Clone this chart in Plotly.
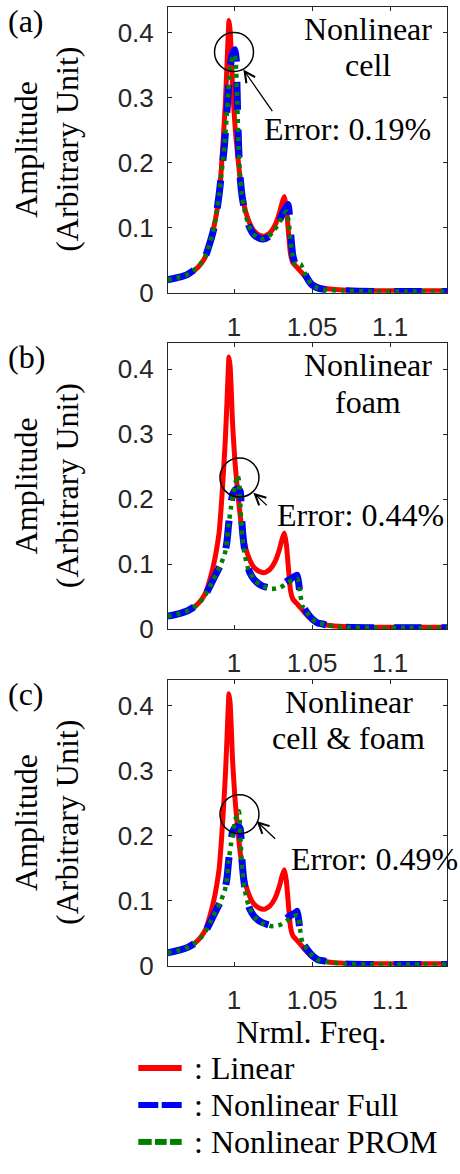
import plotly.graph_objects as go

# ---------------- data ----------------
# Linear response (same model in all three cases)
freq_lin = [0.9575, 0.965, 0.970, 0.975, 0.979, 0.982, 0.9846, 0.987, 0.989, 0.9905,
            0.992, 0.9932, 0.9944, 0.9955, 0.9962, 0.9968, 0.9975, 0.9982, 0.999, 1.0,
            1.0008, 1.0022, 1.0038, 1.006, 1.0092, 1.0125, 1.016, 1.0195, 1.023, 1.0263,
            1.029, 1.031, 1.0323, 1.0336, 1.0350, 1.0362, 1.0378, 1.040, 1.043, 1.0465,
            1.050, 1.055, 1.060, 1.070, 1.085, 1.10, 1.12, 1.1365]
amp_lin = [0.020, 0.024, 0.028, 0.035, 0.045, 0.057, 0.077, 0.100, 0.125, 0.150,
           0.195, 0.240, 0.290, 0.350, 0.392, 0.419, 0.405, 0.370, 0.320, 0.280,
           0.252, 0.215, 0.178, 0.140, 0.112, 0.096, 0.089, 0.087, 0.092, 0.104,
           0.122, 0.140, 0.148, 0.130, 0.090, 0.060, 0.046, 0.040, 0.032, 0.022,
           0.014, 0.008, 0.006, 0.004, 0.003, 0.003, 0.003, 0.003]

# (a) nonlinear cell
freq_a_full = [0.9575, 0.965, 0.970, 0.975, 0.979, 0.982, 0.9846, 0.9868, 0.9889, 0.9905,
               0.9921, 0.9938, 0.9953, 0.9964, 0.9974, 0.9990, 1.0006, 1.0014, 1.0020, 1.0025,
               1.0030, 1.0038, 1.0050, 1.0065, 1.0092, 1.0125, 1.0160, 1.0188, 1.0220, 1.0250,
               1.0290, 1.0320, 1.0346, 1.0356, 1.0366, 1.0378, 1.0395, 1.0415, 1.0428, 1.0445,
               1.0470, 1.0500, 1.0540, 1.0600, 1.0700, 1.0900, 1.1100, 1.1365]
amp_a_full = [0.020, 0.024, 0.028, 0.036, 0.046, 0.058, 0.077, 0.096, 0.124, 0.152,
              0.186, 0.225, 0.272, 0.313, 0.343, 0.368, 0.374, 0.360, 0.310, 0.260,
              0.222, 0.182, 0.152, 0.130, 0.105, 0.090, 0.084, 0.0826, 0.086, 0.094,
              0.110, 0.126, 0.136, 0.118, 0.082, 0.056, 0.043, 0.046, 0.045, 0.034,
              0.022, 0.012, 0.007, 0.004, 0.003, 0.002, 0.002, 0.002]
freq_a_prom = [0.9575, 0.965, 0.970, 0.975, 0.979, 0.982, 0.9846, 0.9868, 0.9889, 0.9905,
               0.9921, 0.9938, 0.9953, 0.9964, 0.9974, 0.9990, 1.0004, 1.0012, 1.0019, 1.0025,
               1.0030, 1.0038, 1.0050, 1.0065, 1.0092, 1.0125, 1.0160, 1.0188, 1.0220, 1.0250,
               1.0290, 1.0318, 1.0336, 1.0350, 1.0362, 1.0376, 1.0395, 1.0415, 1.0428, 1.0445,
               1.0470, 1.0500, 1.0540, 1.0600, 1.0700, 1.0900, 1.1100, 1.1365]
amp_a_prom = [0.020, 0.024, 0.028, 0.036, 0.046, 0.058, 0.077, 0.096, 0.124, 0.152,
              0.186, 0.225, 0.270, 0.310, 0.340, 0.362, 0.366, 0.352, 0.305, 0.258,
              0.222, 0.182, 0.152, 0.130, 0.105, 0.090, 0.084, 0.0826, 0.086, 0.094,
              0.108, 0.120, 0.125, 0.110, 0.080, 0.056, 0.043, 0.045, 0.044, 0.034,
              0.022, 0.012, 0.007, 0.004, 0.003, 0.002, 0.002, 0.002]

# (b) nonlinear foam
freq_b_full = [0.9575, 0.965, 0.970, 0.975, 0.979, 0.982, 0.9846, 0.9868, 0.9910, 0.9940,
               0.9955, 0.9965, 0.9978, 0.9992, 1.0010, 1.0028, 1.0040, 1.0046, 1.0052, 1.0060,
               1.0070, 1.0081, 1.0100, 1.0130, 1.0177, 1.0241, 1.0306, 1.0359, 1.0395, 1.0405,
               1.0415, 1.0425, 1.0440, 1.0466, 1.0500, 1.0540, 1.0570, 1.0600, 1.0700, 1.0900,
               1.1100, 1.1365]
amp_b_full = [0.020, 0.024, 0.028, 0.035, 0.044, 0.054, 0.066, 0.077, 0.097, 0.115,
              0.135, 0.160, 0.188, 0.208, 0.215, 0.216, 0.212, 0.190, 0.160, 0.138,
              0.118, 0.102, 0.088, 0.076, 0.067, 0.063, 0.069, 0.077, 0.082, 0.083,
              0.070, 0.050, 0.036, 0.026, 0.016, 0.009, 0.008, 0.006, 0.003, 0.002,
              0.002, 0.002]
freq_b_prom = [0.9575, 0.965, 0.970, 0.975, 0.979, 0.982, 0.9846, 0.9868, 0.9910, 0.9940,
               0.9955, 0.9965, 0.9981, 0.9996, 1.0010, 1.0021, 1.0030, 1.0036, 1.0043, 1.0052,
               1.0066, 1.0092, 1.0135, 1.0177, 1.0241, 1.0295, 1.0348, 1.0391, 1.0408, 1.0423,
               1.0438, 1.0466, 1.0500, 1.0540, 1.0570, 1.0600, 1.0700, 1.0900, 1.1100, 1.1365]
amp_b_prom = [0.020, 0.024, 0.028, 0.035, 0.044, 0.054, 0.066, 0.077, 0.097, 0.115,
              0.135, 0.160, 0.188, 0.209, 0.226, 0.2365, 0.232, 0.212, 0.180, 0.145,
              0.118, 0.092, 0.0744, 0.067, 0.062, 0.064, 0.072, 0.077, 0.077, 0.057,
              0.036, 0.026, 0.016, 0.009, 0.008, 0.006, 0.003, 0.002, 0.002, 0.002]

# (c) nonlinear cell & foam
freq_c_full = [0.9575, 0.965, 0.970, 0.975, 0.979, 0.982, 0.9846, 0.9868, 0.9910, 0.9940,
               0.9955, 0.9965, 0.9978, 0.9992, 1.0010, 1.0028, 1.0040, 1.0046, 1.0052, 1.0060,
               1.0070, 1.0081, 1.0100, 1.0130, 1.0177, 1.0241, 1.0306, 1.0359, 1.0395, 1.0405,
               1.0415, 1.0425, 1.0440, 1.0466, 1.0500, 1.0540, 1.0570, 1.0600, 1.0700, 1.0900,
               1.1100, 1.1365]
amp_c_full = [0.020, 0.024, 0.028, 0.035, 0.044, 0.054, 0.066, 0.077, 0.097, 0.115,
              0.135, 0.160, 0.188, 0.207, 0.214, 0.215, 0.211, 0.190, 0.160, 0.138,
              0.118, 0.102, 0.088, 0.076, 0.067, 0.062, 0.068, 0.077, 0.082, 0.084,
              0.070, 0.050, 0.036, 0.026, 0.016, 0.009, 0.008, 0.006, 0.003, 0.002,
              0.002, 0.002]
freq_c_prom = [0.9575, 0.965, 0.970, 0.975, 0.979, 0.982, 0.9846, 0.9868, 0.9910, 0.9940,
               0.9955, 0.9965, 0.9981, 0.9996, 1.0010, 1.0022, 1.0032, 1.0038, 1.0045, 1.0054,
               1.0068, 1.0094, 1.0135, 1.0177, 1.0241, 1.0295, 1.0348, 1.0391, 1.0408, 1.0423,
               1.0438, 1.0466, 1.0500, 1.0540, 1.0570, 1.0600, 1.0700, 1.0900, 1.1100, 1.1365]
amp_c_prom = [0.020, 0.024, 0.028, 0.035, 0.044, 0.054, 0.066, 0.077, 0.097, 0.115,
              0.135, 0.160, 0.188, 0.209, 0.226, 0.236, 0.238, 0.215, 0.180, 0.145,
              0.118, 0.092, 0.0744, 0.066, 0.061, 0.063, 0.071, 0.077, 0.078, 0.057,
              0.036, 0.026, 0.016, 0.009, 0.008, 0.006, 0.003, 0.002, 0.002, 0.002]

panel_tags = ["(a)", "(b)", "(c)"]
panel_titles = [["Nonlinear", "cell"], ["Nonlinear", "foam"], ["Nonlinear", "cell & foam"]]
error_labels = ["Error: 0.19%", "Error: 0.44%", "Error: 0.49%"]
# (frequency, amplitude) that each highlight circle surrounds
circle_centres = [(1.0, 0.3705), (1.0035, 0.2334), (1.0035, 0.2334)]
# arrow tips, in data units
arrow_tips = [(1.006, 0.3435), (1.0124, 0.210), (1.0145, 0.2228)]

x_ticks = [1.0, 1.05, 1.1]
x_tick_text = ["1", "1.05", "1.1"]
y_ticks = [0.0, 0.1, 0.2, 0.3, 0.4]
y_tick_text = ["0", "0.1", "0.2", "0.3", "0.4"]
legend_names = [": Linear", ": Nonlinear Full", ": Nonlinear PROM"]

series = [
    (freq_lin, amp_lin, freq_a_full, amp_a_full, freq_a_prom, amp_a_prom),
    (freq_lin, amp_lin, freq_b_full, amp_b_full, freq_b_prom, amp_b_prom),
    (freq_lin, amp_lin, freq_c_full, amp_c_full, freq_c_prom, amp_c_prom),
]

# ---------------- layout helpers ----------------
W, H = 460, 1174
SERIF = "Liberation Serif, Times New Roman, serif"
SANS = "Liberation Sans, Arial, sans-serif"
AX_COLOR = "#262626"
RED, BLUE, GREEN = "#ff0000", "#0000ff", "#008000"


def px(x, y):
    """Pixel position -> paper coordinates."""
    return x / W, 1 - y / H


plot_left, plot_right = 168, 447
panel_tops = [7.0, 347.8, 688.8]
panel_h = 289.5

fig = go.Figure()
annotations = []
shapes = []

for i, (fl, al, ff, af, fp, ap) in enumerate(series):
    xa = "x" if i == 0 else f"x{i+1}"
    ya = "y" if i == 0 else f"y{i+1}"
    fig.add_trace(go.Scatter(x=fl, y=al, xaxis=xa, yaxis=ya, mode="lines",
                             line=dict(color=RED, width=5, shape="spline", smoothing=0.5),
                             showlegend=False, hoverinfo="skip"))
    fig.add_trace(go.Scatter(x=ff, y=af, xaxis=xa, yaxis=ya, mode="lines",
                             line=dict(color=BLUE, width=7, dash="28px,20px",
                                       shape="spline", smoothing=0.5),
                             showlegend=False, hoverinfo="skip"))
    fig.add_trace(go.Scatter(x=fp, y=ap, xaxis=xa, yaxis=ya, mode="lines",
                             line=dict(color=GREEN, width=4.5, dash="4px,5px",
                                       shape="spline", smoothing=0.5),
                             showlegend=False, hoverinfo="skip"))

    top = panel_tops[i]
    bottom = top + panel_h
    xkey = "xaxis" if i == 0 else f"xaxis{i+1}"
    ykey = "yaxis" if i == 0 else f"yaxis{i+1}"
    fig.layout[xkey] = dict(
        domain=[plot_left / W, plot_right / W], anchor=ya, range=[0.9577, 1.1365],
        tickvals=x_ticks, ticktext=x_tick_text, ticks="inside", ticklen=4,
        tickcolor=AX_COLOR, showline=True, linecolor=AX_COLOR, linewidth=1,
        mirror="allticks", showgrid=False, zeroline=False, ticklabelstandoff=11,
        tickfont=dict(family=SANS, size=26, color=AX_COLOR))
    fig.layout[ykey] = dict(
        domain=[1 - bottom / H, 1 - top / H], anchor=xa, range=[0, 0.44],
        tickvals=y_ticks, ticktext=y_tick_text, ticks="inside", ticklen=4,
        tickcolor=AX_COLOR, showline=True, linecolor=AX_COLOR, linewidth=1,
        mirror="allticks", showgrid=False, zeroline=False, ticklabelstandoff=8,
        tickfont=dict(family=SANS, size=26, color=AX_COLOR))

    # panel tag
    tx, ty = px(26, top + 14)
    annotations.append(dict(text=panel_tags[i], x=tx, y=ty, xref="paper", yref="paper",
                            showarrow=False, xanchor="center", yanchor="middle",
                            font=dict(family=SERIF, size=32, color="black")))
    # y axis label, two rotated lines
    cy = top + panel_h / 2
    for lx, txt in [(26, "Amplitude"), (67, "(Arbitrary Unit)")]:
        ax_, ay_ = px(lx, cy)
        annotations.append(dict(text=txt, x=ax_, y=ay_, xref="paper", yref="paper",
                                showarrow=False, textangle=-90, xanchor="center",
                                yanchor="middle",
                                font=dict(family=SERIF, size=32, color="black")))
    # case title
    title_cx = [367.7, 367.7, 348.5][i]
    for k, line in enumerate(panel_titles[i]):
        ax_, ay_ = px(title_cx, top + 22 + 37 * k)
        annotations.append(dict(text=line, x=ax_, y=ay_, xref="paper", yref="paper",
                                showarrow=False, xanchor="center", yanchor="middle",
                                font=dict(family=SERIF, size=32, color="black")))
    # error label
    ex, ey = [(347.5, 131), (360.2, 521.7), (374.8, 870)][i]
    ax_, ay_ = px(ex, ey)
    annotations.append(dict(text=error_labels[i], x=ax_, y=ay_, xref="paper", yref="paper",
                            showarrow=False, xanchor="center", yanchor="middle",
                            font=dict(family=SERIF, size=32, color="black")))
    # arrow toward the circled peak
    tipx, tipy = arrow_tips[i]
    dx, dy = [(30, 43), (15, 14), (20, 19)][i]
    annotations.append(dict(text="", x=tipx, y=tipy, xref=xa, yref=ya, ax=dx, ay=dy,
                            showarrow=True, arrowhead=5, arrowsize=1.6, arrowwidth=1.3,
                            arrowcolor="black"))
    # highlight circle
    cxv, cyv = circle_centres[i]
    shapes.append(dict(type="circle", xref=xa, yref=ya, xsizemode="pixel",
                       ysizemode="pixel", xanchor=cxv, yanchor=cyv,
                       x0=-19.5, x1=19.5, y0=-19.5, y1=19.5,
                       line=dict(color="black", width=1.5)))

# shared x label
ax_, ay_ = px(310.8, 1045)
annotations.append(dict(text="Nrml. Freq.", x=ax_, y=ay_, xref="paper", yref="paper",
                        showarrow=False, xanchor="center", yanchor="middle",
                        font=dict(family=SERIF, size=32, color="black")))

# legend keys and labels
legend_rows = [1081.7, 1119.3, 1156.7]
legend_keys = [
    (RED, [(138.3, 181.7)]),
    (BLUE, [(138.3, 158.3), (161.7, 181.7)]),
    (GREEN, [(138.3, 151.7), (155.0, 166.7), (170.0, 181.7)]),
]
for (col, segs), yrow, name in zip(legend_keys, legend_rows, legend_names):
    for x0, x1 in segs:
        p0 = px(x0, yrow)
        p1 = px(x1, yrow)
        shapes.append(dict(type="line", xref="paper", yref="paper",
                           x0=p0[0], y0=p0[1], x1=p1[0], y1=p1[1],
                           line=dict(color=col, width=6)))
    ax_, ay_ = px(191.7, yrow)
    annotations.append(dict(text=name, x=ax_, y=ay_, xref="paper", yref="paper",
                            showarrow=False, xanchor="left", yanchor="middle",
                            font=dict(family=SERIF, size=32, color="black")))

fig.update_layout(width=W, height=H, margin=dict(l=0, r=0, t=0, b=0),
                  paper_bgcolor="white", plot_bgcolor="white",
                  annotations=annotations, shapes=shapes, showlegend=False)

fig.write_html("out.html", config={"displayModeBar": False})
